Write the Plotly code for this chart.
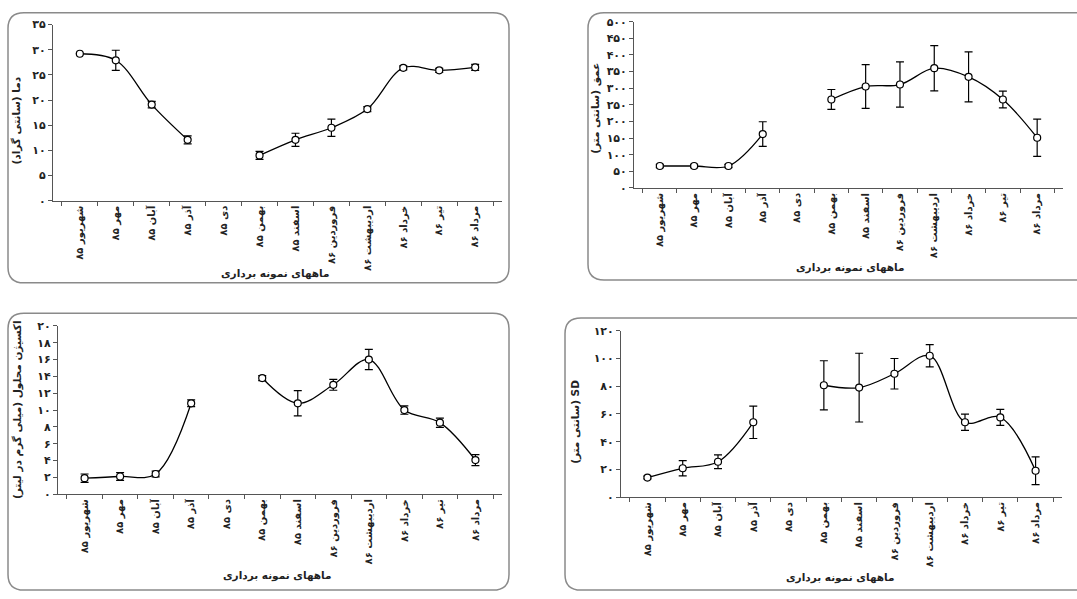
import plotly.graph_objects as go

W, H = 1077, 599

months = ["شهریور ۸۵", "مهر ۸۵", "آبان ۸۵", "آذر ۸۵", "دی ۸۵", "بهمن ۸۵",
          "اسفند ۸۵", "فروردین ۸۶", "اردیبهشت ۸۶", "خرداد ۸۶", "تیر ۸۶", "مرداد ۸۶"]

temp = [29.2, 27.9, 19.1, 12.1, None, 9.0, 12.1, 14.5, 18.2, 26.4, 25.9, 26.5]
temp_err = [0.0, 2.0, 0.65, 0.8, None, 0.8, 1.3, 1.7, 0.5, 0.4, 0.4, 0.6]

depth = [66, 66, 66, 162, None, 266, 305, 311, 360, 334, 266, 151]
depth_err = [5, 5, 5, 37, None, 30, 66, 68, 68, 75, 25, 56]

oxygen = [1.9, 2.1, 2.4, 10.8, None, 13.8, 10.8, 13.0, 16.0, 10.0, 8.5, 4.05]
oxygen_err = [0.5, 0.45, 0.35, 0.4, None, 0.3, 1.5, 0.65, 1.2, 0.5, 0.55, 0.65]

sd = [14.1, 20.8, 25.5, 54, None, 80.7, 79, 89, 102, 54, 57.5, 19]
sd_err = [1, 5.5, 5, 11.7, None, 17.7, 24.8, 11, 8, 5.8, 5.8, 10]

fa = str.maketrans("0123456789", "۰۱۲۳۴۵۶۷۸۹")
temp_ticks = [0, 5, 10, 15, 20, 25, 30, 35]
depth_ticks = [0, 50, 100, 150, 200, 250, 300, 350, 400, 450, 500]
oxygen_ticks = [0, 2, 4, 6, 8, 10, 12, 14, 16, 18, 20]
sd_ticks = [0, 20, 40, 60, 80, 100, 120]

x_title = "ماههای نمونه برداری"
RLM = "\u200f"
y_titles = ["دما (سانتی گراد)" + RLM, "عمق (سانتی متر)" + RLM,
            "اکسیژن محلول (میلی گرم در لیتر)" + RLM, "(سانتی متر) SD"]

# panel geometry in pixels: plot area (x0, x1, ytop, ybottom), box (x0, y0, x1, y1)
panels = [
    dict(plot=(53, 502, 19, 199), box=(8, 7, 509, 283), ymax=35,
         ytitle=(16, 117), xtitle=(275, 273)),
    dict(plot=(634, 1063, 16, 186), box=(588, 7, 1095, 280), ymax=500,
         ytitle=(596, 105), xtitle=(850, 267)),
    dict(plot=(58, 502, 327, 499), box=(8, 314, 509, 597), ymax=20,
         ytitle=(17, 413), xtitle=(277, 582)),
    dict(plot=(621, 1062, 332, 502), box=(565, 319, 1095, 597), ymax=120,
         ytitle=(576, 425), xtitle=(840, 584)),
]
series = [(temp, temp_err, temp_ticks), (depth, depth_err, depth_ticks),
          (oxygen, oxygen_err, oxygen_ticks), (sd, sd_err, sd_ticks)]

FONT = "DejaVu Sans"
fig = go.Figure()
shapes = []
annotations = []


def px(x):
    return x / W


def py(y):
    return 1 - y / H


def rounded(x0, y0, x1, y1, r=16):
    pts = [
        ("M", [(x0 + r, y0)]), ("L", [(x1 - r, y0)]), ("Q", [(x1, y0), (x1, y0 + r)]),
        ("L", [(x1, y1 - r)]), ("Q", [(x1, y1), (x1 - r, y1)]), ("L", [(x0 + r, y1)]),
        ("Q", [(x0, y1), (x0, y1 - r)]), ("L", [(x0, y0 + r)]), ("Q", [(x0, y0), (x0 + r, y0)]),
    ]
    s = ""
    for cmd, ps in pts:
        s += cmd + " " + " ".join(f"{px(a):.5f},{py(b):.5f}" for a, b in ps) + " "
    return s + "Z"


for i, (p, (vals, errs, ticks)) in enumerate(zip(panels, series)):
    n = "" if i == 0 else str(i + 1)
    x0, x1, yt, yb = p["plot"]
    fig.add_trace(go.Scatter(
        x=months, y=vals, mode="lines+markers",
        line=dict(color="black", width=1.3, shape="spline"),
        marker=dict(symbol="circle", size=7, color="white",
                    line=dict(color="black", width=1.2)),
        error_y=dict(type="data", array=errs, visible=True, color="black",
                     thickness=1.2, width=4),
        xaxis="x" + n, yaxis="y" + n, showlegend=False, cliponaxis=False,
    ))
    fig.layout["xaxis" + n] = dict(
        domain=[px(x0), px(x1)], anchor="y" + n, type="category",
        categoryorder="array", categoryarray=months,
        tickson="boundaries", ticks="outside", ticklen=4, tickcolor="#555",
        showline=True, linecolor="#555", linewidth=1, showgrid=False,
        tickangle=-90, tickfont=dict(family=FONT, size=10, color="#222", weight="bold"),
        zeroline=False, fixedrange=True,
    )
    fig.layout["yaxis" + n] = dict(
        domain=[py(yb), py(yt)], anchor="x" + n, range=[0, p["ymax"]],
        tickvals=ticks, ticktext=[str(t).translate(fa) for t in ticks],
        ticks="outside", ticklen=4, tickcolor="#555",
        showline=True, linecolor="#555", linewidth=1, showgrid=False, zeroline=False,
        tickfont=dict(family=FONT, size=11, color="#222", weight="bold"),
        fixedrange=True,
    )
    bx0, by0, bx1, by1 = p["box"]
    shapes.append(dict(type="path", xref="paper", yref="paper",
                       path=rounded(bx0, by0, bx1, by1),
                       line=dict(color="#8a8a8a", width=1.5), layer="below"))
    tx, ty = p["ytitle"]
    annotations.append(dict(text=y_titles[i], x=px(tx), y=py(ty), xref="paper", yref="paper",
                            textangle=-90, showarrow=False, xanchor="center", yanchor="middle",
                            font=dict(family=FONT, size=10.5, color="#222", weight="bold")))
    tx, ty = p["xtitle"]
    annotations.append(dict(text=x_title, x=px(tx), y=py(ty), xref="paper", yref="paper",
                            showarrow=False, xanchor="center", yanchor="middle",
                            font=dict(family=FONT, size=10.5, color="#222", weight="bold")))

fig.update_layout(
    width=W, height=H, margin=dict(l=0, r=0, t=0, b=0),
    paper_bgcolor="white", plot_bgcolor="white",
    shapes=shapes, annotations=annotations,
)

fig.write_html("out.html", config={"displayModeBar": False},
               post_script="document.body.style.margin='0';document.body.style.overflow='hidden';")
